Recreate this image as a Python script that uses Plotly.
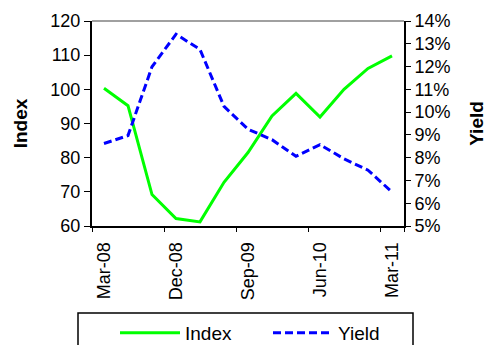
import plotly.graph_objects as go

quarters = ["Mar-08", "Jun-08", "Sep-08", "Dec-08", "Mar-09", "Jun-09", "Sep-09",
            "Dec-09", "Mar-10", "Jun-10", "Sep-10", "Dec-10", "Mar-11"]
index_values = [100.3, 95.2, 69.2, 62.2, 61.2, 72.8, 81.5, 92.2, 98.8, 91.9, 100.0, 106.1, 109.8]
yield_values = [0.0862, 0.0897, 0.1199, 0.1342, 0.1275, 0.1025, 0.0925, 0.0879, 0.0806,
                0.0857, 0.0795, 0.0745, 0.0649]
tick_labels = ["Mar-08", "Dec-08", "Sep-09", "Jun-10", "Mar-11"]

FONT = "Arial, Liberation Sans, sans-serif"

fig = go.Figure()
fig.add_trace(go.Scatter(x=quarters, y=index_values, name="Index", mode="lines",
                         line=dict(color="#00FF00", width=3), yaxis="y", legend="legend"))
fig.add_trace(go.Scatter(x=quarters, y=yield_values, name="Yield", mode="lines",
                         line=dict(color="#0000FF", width=3, dash="8px,4px"), yaxis="y2",
                         legend="legend2"))

L, R, T, B = 92, 83, 21, 119
W, H = 487, 345
pw, ph = W - L - R, H - T - B

def px_x(p):
    return (p - L) / pw

def px_y(p):
    return (H - B - p) / ph

legend_common = dict(orientation="h", y=px_y(333), yanchor="middle", xanchor="left",
                     font=dict(size=19, family=FONT), itemwidth=60,
                     bgcolor="rgba(0,0,0,0)", borderwidth=0, itemclick=False,
                     itemdoubleclick=False)

fig.update_layout(
    width=W, height=H,
    margin=dict(l=L, r=R, t=T, b=B, autoexpand=False),
    paper_bgcolor="white", plot_bgcolor="white",
    font=dict(family=FONT, size=18, color="black"),
    showlegend=True,
    legend=dict(x=px_x(115), **legend_common),
    legend2=dict(x=px_x(268), **legend_common),
    xaxis=dict(type="category", categoryorder="array", categoryarray=quarters,
               range=[-0.5, 12.5], tickmode="array", tickvals=tick_labels, ticktext=tick_labels,
               tickson="boundaries", ticks="outside", ticklen=4, tickwidth=1, tickcolor="black",
               tickangle=-90, showline=True, linecolor="black", linewidth=2,
               showgrid=False, zeroline=False, ticklabelstandoff=7, automargin=False,
               tickfont=dict(size=18)),
    yaxis=dict(range=[60, 120], dtick=10, tick0=60, ticks="outside", ticklen=6, tickwidth=1,
               tickcolor="black", showline=True, linecolor="black", linewidth=2,
               showgrid=False, zeroline=False, automargin=False,
               title=dict(text="<b>Index</b>", font=dict(size=19), standoff=18),
               tickfont=dict(size=18)),
    yaxis2=dict(range=[0.05, 0.14], dtick=0.01, tick0=0.05, tickformat=".0%", overlaying="y",
                side="right", ticks="outside", ticklen=5, tickwidth=1, tickcolor="black",
                showline=True, linecolor="black", linewidth=2, showgrid=False, zeroline=False,
                automargin=False,
                title=dict(text="<b>Yield</b>", font=dict(size=19), standoff=21),
                tickfont=dict(size=18)),
    shapes=[
        dict(type="line", xref="paper", yref="paper", x0=0, x1=1, y0=1, y1=1,
             line=dict(color="#808080", width=1.5)),
        dict(type="rect", xref="paper", yref="paper", x0=px_x(78), x1=px_x(413),
             y0=px_y(313), y1=px_y(360), line=dict(color="black", width=1.5),
             fillcolor="rgba(0,0,0,0)", layer="below"),
    ],
)

fig.write_html("out.html", config={"displayModeBar": False},
               post_script="document.body.style.margin='0';")
